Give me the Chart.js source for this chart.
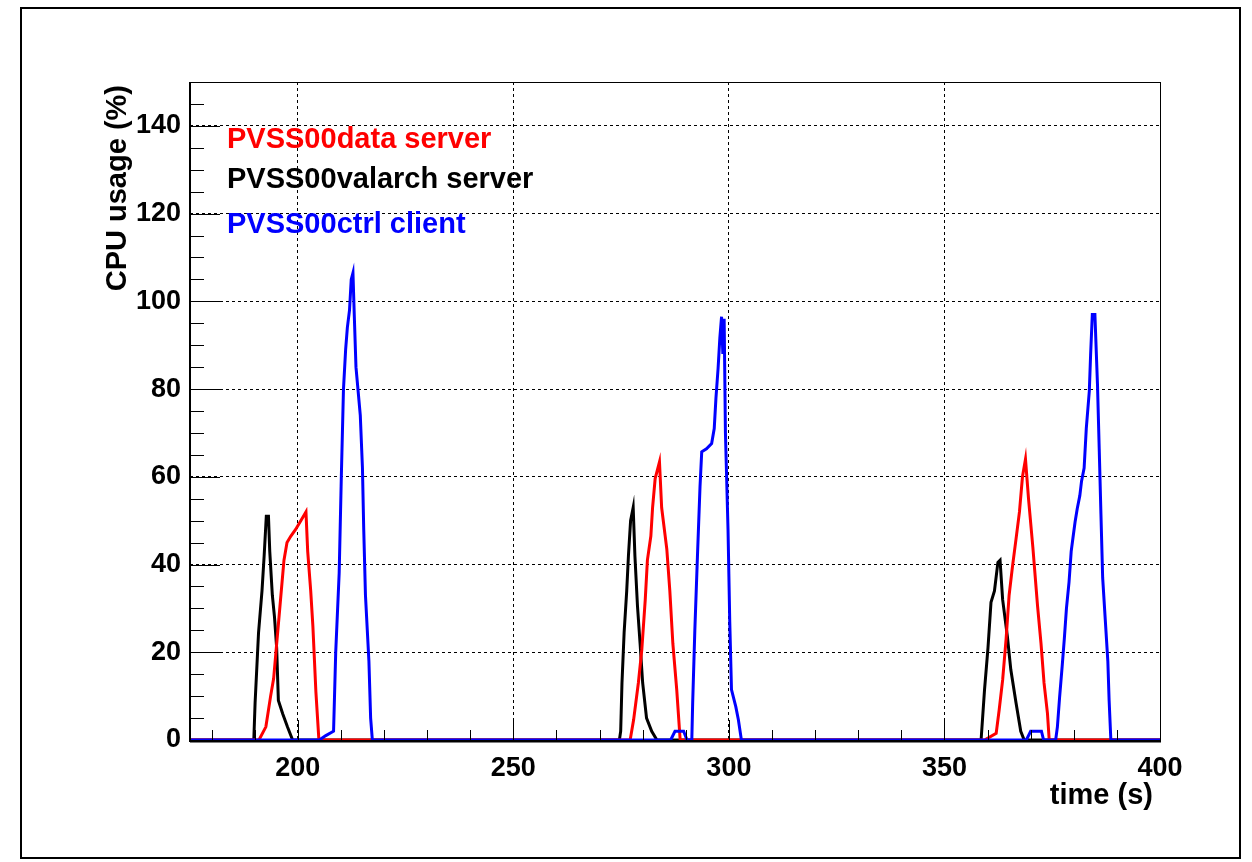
<!DOCTYPE html>
<html>
<head>
<meta charset="utf-8">
<script src="https://cdn.jsdelivr.net/npm/chart.js@4/dist/chart.umd.min.js"></script>
<style>
html,body{margin:0;padding:0;background:#fff;}
#wrap{position:relative;width:1252px;height:862px;}
canvas{display:block;}
</style>
</head>
<body>
<div id="wrap"><canvas id="c" width="1252" height="862"></canvas></div>
<script>
// ---- data (time in s, CPU usage in %) ----
const valarchTimes = [175, 189.8, 190.1, 190.9, 191.7, 192.2, 192.7, 193.2, 193.5, 194.1, 194.6, 195.1, 195.5, 196.5, 197.6, 198.8,
  274.6, 274.9, 275.2, 275.7, 276.3, 276.7, 277.2, 277.8, 278.2, 278.8, 279.4, 280, 280.9, 282.1, 283.3,
  358.5, 359.3, 360.1, 360.8, 361.6, 362.4, 362.9, 363.5, 364.6, 365.4, 366.6, 367.7, 368.5, 400];
const valarchValues = [0, 0, 8.5, 24.5, 34, 42, 51, 51, 43, 33, 28, 21, 9, 6, 3, 0,
  0, 2, 13, 24.5, 34, 42, 50, 53, 42, 30.5, 22, 13, 5, 2, 0,
  0, 11.5, 21, 31.4, 34, 40.5, 41, 32, 23.6, 16, 8.5, 2, 0, 0];

const dataTimes = [175, 191, 192.6, 193.7, 194.4, 195.2, 196, 196.8, 197.5, 198.4, 199.5, 200.7, 201.9, 202.3, 203, 203.5, 204.2, 204.9,
  277.1, 277.9, 279, 279.8, 280.6, 281.1, 281.9, 282.3, 282.9, 283.9, 284.4, 285.6, 286.3, 287, 287.9, 288.7,
  359.3, 362, 362.7, 363.5, 364.3, 365, 365.8, 366.6, 367.4, 368.1, 368.8, 369.5, 370.5, 371.6, 372.4, 373.1, 373.9, 374.3, 400];
const dataValues = [0, 0, 3, 10, 14, 23, 32, 41, 45, 46.5, 48, 50, 52, 43, 34, 26, 11, 0,
  0, 4.6, 13, 20.6, 32, 41, 46.5, 53, 59.6, 63.4, 53, 43.5, 34, 22, 11.5, 0,
  0, 1.5, 6.9, 13.7, 23, 33, 39.7, 45.8, 52, 60, 64, 55, 44, 30.5, 22, 13, 6, 0, 0];

const ctrlTimes = [175, 205, 206.5, 208.3, 208.8, 209.6, 210.1, 210.6, 211.1, 211.5, 212, 212.4, 212.8, 213.1, 213.5, 214.5, 215, 215.3, 215.7, 216.5, 216.9, 217.3,
  286.5, 287.5, 289.5, 290.3, 291.4, 291.6, 292.1, 292.7, 293.3, 293.7, 294.8, 296, 296.6, 297, 297.5, 297.9, 298.3, 298.6, 298.9, 299.2, 299.8, 300.2, 300.6, 301.6, 302.2, 302.9,
  369, 370, 372.5, 373, 375.8, 376.2, 376.7, 377.3, 377.8, 378.3, 378.9, 379.4, 379.8, 380.3, 380.8, 381.4, 381.8, 382.4, 382.9, 383.6, 383.9, 384.3, 384.9, 385.5, 385.9, 386.3, 386.7, 387.3, 387.9, 388.2, 388.6, 400];
const ctrlValues = [0, 0, 1, 2, 20, 38, 60, 80, 89, 94, 98, 105, 106.5, 97, 85, 74, 62, 48, 33, 18, 5, 0,
  0, 2, 2, 0, 0, 8.5, 25, 41.7, 57.7, 65.7, 66.4, 67.6, 71, 78, 84.8, 91.6, 96.5, 88, 96, 70, 48, 27, 11.5, 7.6, 4.6, 0,
  0, 2, 2, 0, 0, 3, 9.6, 16.7, 23, 30, 36, 43, 46, 49.7, 52.7, 55.7, 59, 62, 71, 79.5, 87.7, 97, 97, 81, 66.4, 51.5, 37, 27.5, 18, 9, 0, 0];

const seriesNames = ["PVSS00data server", "PVSS00valarch server", "PVSS00ctrl client"];
const xTitle = "time (s)";
const yTitle = "CPU usage (%)";

const toPoints = (ts, vs) => ts.map((t, i) => ({x: t, y: vs[i]}));

const FONT = "'Liberation Sans', Arial, Helvetica, sans-serif";

const decor = {
  id: 'decor',
  afterDatasetsDraw(chart) {
    const ctx = chart.ctx;
    const a = chart.chartArea;
    const xs = chart.scales.x, ys = chart.scales.y;
    ctx.save();
    ctx.strokeStyle = '#000';
    // frame
    ctx.lineWidth = 1;
    ctx.strokeRect(a.left + 0.5, a.top + 0.5, a.right - a.left, a.bottom - a.top);
    // axes (left & bottom)
    ctx.lineWidth = 2;
    ctx.beginPath();
    ctx.moveTo(a.left, a.top); ctx.lineTo(a.left, a.bottom + 2);
    ctx.moveTo(a.left, a.bottom + 1.5); ctx.lineTo(a.right + 1, a.bottom + 1.5);
    ctx.stroke();
    // tick marks
    ctx.lineWidth = 1;
    ctx.beginPath();
    for (let v = 180; v <= 400; v += 10) {
      const px = Math.round(xs.getPixelForValue(v)) + 0.5;
      const len = (v % 50 === 0) ? 20 : 10;
      ctx.moveTo(px, a.bottom); ctx.lineTo(px, a.bottom - len);
    }
    for (let v = 0; v <= 150; v += 5) {
      const py = Math.round(ys.getPixelForValue(v)) + 0.5;
      const len = (v % 20 === 0) ? 30 : 14;
      ctx.moveTo(a.left, py); ctx.lineTo(a.left + len, py);
    }
    ctx.stroke();
    // axis titles
    ctx.fillStyle = '#000';
    ctx.font = "bold 29px " + FONT;
    ctx.textAlign = 'right';
    ctx.textBaseline = 'alphabetic';
    ctx.fillText(xTitle, 1153, 804);
    ctx.save();
    ctx.translate(126, 85);
    ctx.rotate(-Math.PI / 2);
    ctx.textAlign = 'right';
    ctx.textBaseline = 'alphabetic';
    ctx.fillText(yTitle, 0, 0);
    ctx.restore();
    // legend text
    ctx.font = "bold 29px " + FONT;
    ctx.textAlign = 'left';
    const cols = ['#ff0000', '#000000', '#0000ff'];
    const ys2 = [148, 188, 233];
    seriesNames.forEach((n, i) => { ctx.fillStyle = cols[i]; ctx.fillText(n, 227, ys2[i]); });
    // outer border
    ctx.strokeStyle = '#000';
    ctx.lineWidth = 2;
    ctx.strokeRect(21, 8, 1219, 850);
    ctx.restore();
  }
};

new Chart(document.getElementById('c'), {
  type: 'line',
  data: {
    datasets: [
      {label: seriesNames[2], data: toPoints(ctrlTimes, ctrlValues), borderColor: '#0000ff'},
      {label: seriesNames[0], data: toPoints(dataTimes, dataValues), borderColor: '#ff0000'},
      {label: seriesNames[1], data: toPoints(valarchTimes, valarchValues), borderColor: '#000000'}
    ]
  },
  options: {
    responsive: false,
    animation: false,
    devicePixelRatio: 1,
    elements: {
      line: {borderWidth: 3, tension: 0, fill: false, borderJoinStyle: 'miter'},
      point: {radius: 0}
    },
    layout: {padding: {left: 0, top: 82, right: 92, bottom: 0}},
    plugins: {legend: {display: false}, tooltip: {enabled: false}},
    scales: {
      x: {
        type: 'linear', min: 175, max: 400,
        afterFit(s) { s.height = 122; },
        ticks: {stepSize: 50, includeBounds: false, color: '#000', padding: 12,
          font: {family: FONT, size: 27, weight: 'bold'}, maxRotation: 0, autoSkip: false},
        grid: {color: '#000', lineWidth: 1, drawTicks: false},
        border: {display: false, dash: [3, 3]}
      },
      y: {
        type: 'linear', min: 0, max: 150,
        afterFit(s) { s.width = 190; },
        ticks: {stepSize: 20, includeBounds: false, color: '#000', padding: 9,
          font: {family: FONT, size: 27, weight: 'bold'}},
        grid: {color: '#000', lineWidth: 1, drawTicks: false},
        border: {display: false, dash: [3, 3]}
      }
    }
  },
  plugins: [decor]
});
</script>
</body>
</html>
